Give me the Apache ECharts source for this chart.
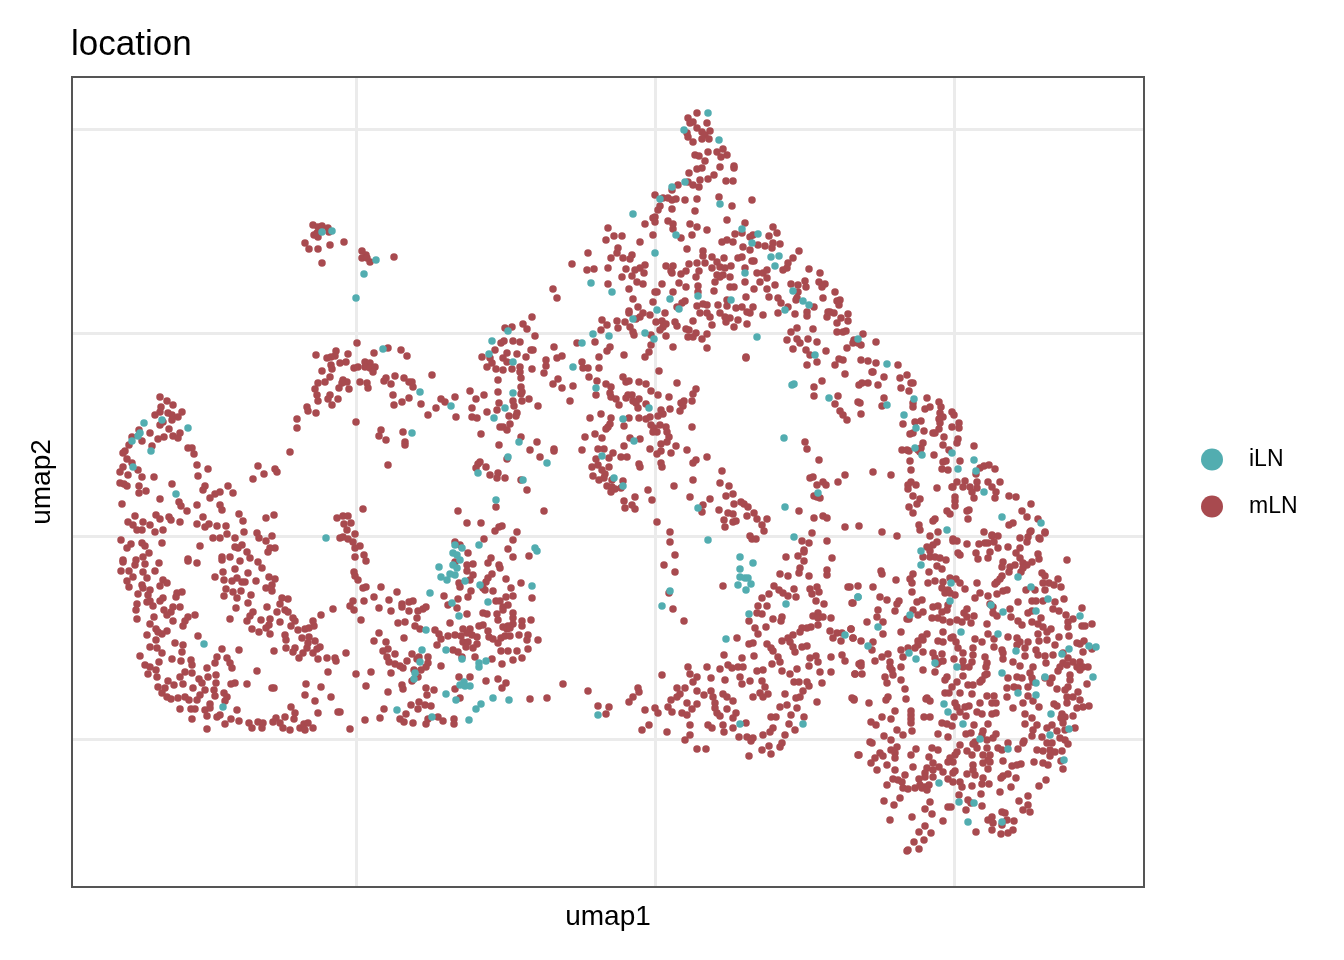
<!DOCTYPE html>
<html>
<head>
<meta charset="utf-8">
<style>html,body{margin:0;padding:0;background:#fff}#c{width:1344px;height:960px}</style>
<script src="https://cdn.jsdelivr.net/npm/echarts@6/dist/echarts.min.js"></script>
</head>
<body>
<div id="c"></div>
<script>
const xGrid = [356, 655, 954];
const yGrid = [221, 424, 627, 831];
const legendNames = ['iLN', 'mLN'];

const mlnLeftUpper = [[160,563],[167,559],[173,555],[161,553],[182,548],[155,545],[160,548],[168,547],[172,545],[178,543],[163,538],[172,540],[160,535],[169,531],[150,527],[139,530],[180,527],[173,524],[178,522],[164,523],[158,521],[132,523],[142,519],[152,514],[129,515],[125,509],[123,507],[188,512],[192,512],[194,506],[127,501],[132,497],[197,495],[208,491],[123,493],[120,488],[138,490],[128,485],[142,483],[154,483],[198,484],[120,477],[127,474],[124,476],[172,476],[139,474],[146,469],[139,467],[205,474],[203,470],[228,474],[233,467],[220,468],[215,466],[210,462],[122,456],[160,461],[179,458],[181,454],[197,455],[220,455],[222,450],[187,449],[239,446],[243,439],[203,443],[266,442],[274,445],[135,444],[156,445],[160,441],[169,443],[171,440],[180,438],[128,438],[133,435],[143,438],[150,435],[137,430],[142,430],[155,428],[163,430],[197,436],[205,433],[209,436],[217,434],[226,434],[244,428],[227,426],[213,422],[220,422],[235,422],[257,427],[272,424],[259,422],[266,419],[121,420],[131,416],[127,412],[142,417],[145,414],[162,417],[200,414],[242,415],[235,413],[238,412],[275,412],[270,412],[247,408],[268,408],[149,407],[143,403],[123,400],[136,400],[188,401],[222,403],[230,403],[250,402],[290,508],[258,494],[264,486],[253,481],[275,491],[277,488],[337,442],[340,422]];

const mlnLeftLower = [[123,398],[135,395],[145,396],[159,397],[188,399],[197,397],[121,389],[129,389],[143,388],[155,389],[133,383],[147,382],[127,379],[129,373],[142,375],[143,372],[163,380],[167,377],[160,374],[150,370],[138,366],[148,365],[182,368],[177,367],[176,363],[163,362],[160,359],[147,358],[150,359],[137,356],[153,354],[136,350],[180,353],[173,353],[164,350],[171,348],[167,345],[195,345],[188,343],[185,339],[183,334],[137,341],[154,343],[173,339],[150,336],[156,331],[167,329],[162,326],[147,325],[158,328],[156,320],[198,324],[175,317],[183,315],[150,313],[157,312],[162,307],[182,308],[140,304],[172,301],[181,299],[191,300],[192,295],[159,298],[145,295],[150,293],[156,290],[148,286],[157,283],[207,292],[180,283],[185,288],[192,287],[199,281],[202,277],[208,283],[216,285],[168,279],[174,275],[183,276],[193,272],[216,277],[214,270],[158,273],[165,272],[162,267],[167,263],[171,261],[178,262],[185,263],[189,260],[197,260],[200,265],[205,270],[215,264],[224,267],[227,263],[225,259],[180,251],[191,251],[195,251],[210,256],[205,250],[210,252],[207,244],[217,243],[220,245],[192,241],[207,231],[225,236],[231,241],[239,239],[237,250],[249,237],[252,232],[258,238],[263,237],[262,232],[273,238],[276,242],[280,237],[285,243],[283,232],[290,230],[294,241],[295,247],[291,253],[300,232],[304,236],[308,237],[305,230],[313,232],[318,247],[338,248],[315,259],[331,263],[305,265],[321,273],[306,276],[272,272],[274,272],[247,276],[235,277],[231,276],[257,289],[328,288],[232,292],[230,297],[227,302],[217,303],[215,297],[222,311],[239,310],[274,309],[299,302],[303,307],[295,312],[286,312],[293,308],[318,301],[327,302],[335,302],[336,299],[320,313],[313,307],[317,311],[307,312],[308,317],[309,323],[315,319],[302,322],[298,330],[305,331],[309,332],[314,334],[313,339],[321,345],[333,351],[293,342],[295,339],[291,334],[285,325],[286,320],[280,338],[270,341],[269,335],[266,332],[270,326],[259,328],[252,331],[261,340],[247,339],[250,344],[253,348],[230,341],[236,352],[248,357],[267,353],[277,348],[280,356],[285,350],[288,348],[282,362],[288,361],[251,365],[237,362],[224,364],[226,371],[233,368],[241,369],[266,372],[272,369],[272,375],[269,383],[275,381],[256,379],[245,378],[242,378],[237,382],[232,379],[224,380],[215,383],[223,388],[248,387],[235,391],[262,392],[258,398],[240,399],[222,400]];

const mlnUpperMiddle = [[313,735],[318,733],[322,734],[328,732],[314,725],[318,723],[317,727],[329,728],[305,717],[309,711],[318,711],[330,715],[344,718],[322,697],[362,709],[366,705],[362,702],[370,698],[367,702],[394,703],[357,617],[388,612],[374,607],[401,610],[407,604],[336,609],[348,606],[316,605],[327,602],[331,603],[335,604],[340,597],[346,598],[331,595],[332,591],[322,589],[354,592],[358,593],[365,598],[370,597],[365,593],[370,592],[375,593],[373,588],[330,583],[325,578],[318,577],[343,580],[347,578],[342,577],[339,572],[349,571],[315,571],[317,565],[318,559],[330,565],[328,561],[338,561],[332,555],[307,553],[308,549],[316,547],[297,541],[297,532],[356,538],[432,585],[395,584],[386,582],[384,579],[391,576],[404,582],[409,578],[412,578],[413,573],[360,578],[367,577],[368,572],[393,565],[394,555],[402,558],[409,562],[421,556],[428,545],[436,552],[441,561],[445,558],[455,563],[456,543],[381,530],[379,524],[386,520],[403,528],[405,518],[405,515],[388,495],[470,569],[484,565],[476,561],[472,552],[472,543],[477,542],[487,548],[481,526],[498,568],[498,580],[499,557],[497,550],[513,559],[514,554],[517,547],[509,544],[516,544],[522,559],[529,561],[538,554],[521,573],[522,568],[521,566],[521,582],[520,593],[520,588],[512,591],[532,591],[503,590],[496,591],[487,593],[492,597],[490,602],[495,610],[482,603],[503,602],[507,607],[507,598],[517,606],[526,603],[501,617],[504,619],[513,619],[520,618],[531,610],[533,610],[535,624],[505,632],[512,633],[523,636],[527,631],[532,643],[546,600],[546,594],[544,587],[500,533],[503,533],[510,536],[507,530],[521,523],[537,518],[499,515],[530,510],[507,501],[540,503],[478,496],[486,493],[498,487],[497,482],[521,480],[527,470],[505,482],[480,498],[476,492],[490,485]];

const mlnLowerMiddle = [[363,451],[458,449],[496,453],[544,449],[467,437],[481,437],[502,434],[499,433],[495,429],[517,428],[513,420],[484,421],[508,411],[513,403],[529,404],[343,444],[348,444],[344,436],[351,437],[347,430],[355,426],[343,423],[348,421],[353,418],[360,414],[355,412],[364,405],[355,403],[366,399],[354,388],[355,384],[358,380],[363,372],[366,373],[381,373],[397,368],[374,363],[364,359],[353,359],[350,354],[354,350],[361,340],[389,360],[379,352],[391,349],[402,356],[402,353],[409,358],[413,359],[409,349],[418,349],[423,351],[426,353],[417,342],[398,337],[405,338],[415,334],[420,331],[450,337],[379,327],[374,319],[386,318],[404,322],[388,311],[383,309],[387,303],[389,298],[395,306],[395,296],[400,294],[403,292],[407,299],[412,306],[419,303],[417,301],[428,303],[428,297],[426,293],[421,290],[414,290],[346,307],[437,315],[441,294],[435,330],[439,326],[441,321],[448,324],[455,325],[463,331],[470,331],[461,324],[467,327],[472,325],[477,323],[463,318],[468,318],[477,316],[473,312],[466,313],[453,310],[458,308],[462,303],[475,303],[479,334],[483,335],[488,329],[489,323],[493,321],[498,317],[501,322],[505,324],[510,324],[519,325],[528,325],[527,320],[538,320],[528,311],[517,309],[508,309],[501,309],[492,301],[522,302],[513,300],[502,296],[498,340],[467,346],[483,347],[487,346],[497,346],[531,340],[522,339],[522,334],[513,347],[513,342],[513,336],[508,334],[503,333],[507,331],[510,332],[503,353],[508,355],[503,350],[500,359],[496,359],[506,363],[513,364],[532,362],[511,372],[521,377],[506,381],[493,369],[483,372],[485,370],[482,374],[486,378],[488,382],[492,386],[499,395],[500,392],[488,397],[491,402],[471,369],[468,363],[458,361],[444,364],[448,355],[457,352],[460,373],[459,377],[473,396],[467,395],[467,389],[473,385],[470,380],[468,407],[455,418],[460,415],[455,398],[356,286],[371,288],[391,287],[366,274],[388,268],[402,275],[403,271],[412,279],[418,283],[426,272],[434,270],[427,265],[419,258],[411,255],[425,255],[431,254],[418,251],[384,251],[406,246],[380,242],[365,240],[400,241],[404,238],[413,237],[428,241],[426,236],[438,243],[443,239],[454,241],[454,236],[350,231],[340,248],[455,271],[460,262],[459,283],[470,283],[486,279],[498,281],[506,277],[502,272],[563,276],[547,262],[530,261]];

const mlnApex = [[688,842],[697,847],[693,838],[707,837],[690,837],[697,832],[702,828],[710,829],[705,825],[687,827],[688,823],[693,818],[702,821],[709,821],[708,808],[723,811],[717,808],[727,805],[721,803],[695,805],[699,804],[705,799],[734,794],[734,792],[720,793],[702,792],[697,791],[689,787],[714,785],[708,781],[700,780],[726,779],[733,779],[688,778],[693,775],[699,773],[678,775],[672,770],[655,765],[663,762],[668,762],[676,761],[672,760],[685,760],[697,761],[719,763],[752,760],[732,754],[672,751],[660,754],[658,750],[695,749],[655,743],[653,742],[645,736],[655,738],[668,739],[673,736],[673,731],[690,736],[697,733],[707,730],[727,740],[745,737],[608,732],[614,724],[622,724],[606,720],[640,718],[653,725],[681,722],[692,725],[687,711],[618,712],[617,707],[588,707],[611,702],[623,702],[632,705],[630,701],[572,696],[587,690],[594,691],[608,692],[626,691],[645,695],[640,692],[635,690],[644,687],[632,684],[622,683],[608,676],[637,678],[643,676],[662,676],[629,671],[673,668],[666,694],[673,694],[671,689],[672,687],[686,689],[681,686],[696,683],[689,696],[697,697],[705,697],[699,689],[703,709],[703,704],[712,703],[724,702],[717,698],[712,692],[720,693],[725,692],[731,694],[717,685],[720,683],[715,678],[723,685],[730,683],[738,702],[742,703],[752,699],[754,699],[745,692],[745,678],[730,673],[734,673],[698,674],[679,677],[686,673],[698,668],[714,669],[754,671],[767,671],[760,678],[757,687],[763,687],[767,690],[767,682],[775,675],[769,663],[727,720],[722,718],[733,718],[735,726],[742,727],[743,713],[750,723],[753,725],[750,710],[758,715],[765,714],[773,733],[769,724],[777,727],[773,717],[780,716],[772,712],[799,709],[793,702],[788,697],[787,692],[783,690],[809,691],[820,687],[791,676],[805,679],[798,675],[798,668],[806,673],[819,678],[825,676],[822,673],[797,662],[778,662],[781,657],[788,653],[796,660],[823,662],[814,653],[807,648],[807,644],[795,646],[778,647],[763,645],[828,648],[827,643],[629,649],[629,647],[638,653],[633,661],[653,658],[655,668],[657,668],[643,647],[640,643],[650,645],[665,647],[656,638],[662,639],[666,636],[663,633],[660,630],[675,638],[677,634],[636,641],[630,633],[633,628],[625,638],[617,639],[618,632],[602,640],[607,635],[601,630],[634,625],[651,625],[666,624],[677,653],[682,657],[685,659],[697,654],[703,656],[707,655],[700,647],[707,647],[710,643],[718,655],[720,647],[727,660],[727,654],[725,643],[730,642],[726,638],[693,639],[712,635],[738,640],[734,633],[747,636],[736,652],[742,653],[747,648],[753,653],[750,647],[746,663],[686,631],[689,630],[696,627],[688,623],[693,623],[707,626],[702,621],[707,612],[673,613],[651,615],[649,608],[645,603],[624,605],[610,613],[607,609],[599,603],[595,618],[577,617],[562,604],[557,602],[554,613],[553,671],[557,662],[746,603],[791,628],[797,632],[813,631],[787,620],[797,621],[808,621],[800,617],[817,618],[793,611],[806,610],[826,609],[810,605]];

const mlnCentre = [[659,589],[582,598],[599,592],[588,592],[583,592],[589,583],[558,581],[553,576],[562,572],[573,574],[597,579],[623,583],[626,578],[629,579],[639,578],[646,576],[606,576],[611,573],[677,577],[651,569],[596,565],[610,567],[611,563],[616,561],[628,565],[632,565],[626,562],[633,559],[639,561],[636,557],[638,552],[619,555],[646,556],[658,565],[669,563],[696,571],[693,566],[692,559],[684,559],[681,557],[683,554],[670,551],[680,549],[570,559],[661,550],[663,546],[658,544],[601,546],[590,542],[611,542],[629,542],[639,542],[650,543],[646,541],[610,536],[608,533],[606,531],[624,534],[651,535],[660,535],[666,533],[654,532],[657,528],[653,528],[667,528],[692,533],[595,526],[585,523],[602,522],[630,522],[640,521],[669,523],[667,518],[661,516],[624,514],[676,514],[650,511],[661,509],[657,506],[671,507],[687,510],[554,511],[554,509],[582,510],[598,511],[604,511],[613,507],[609,502],[621,503],[627,503],[596,501],[696,500],[693,497],[707,503],[639,496],[640,493],[661,497],[662,493],[592,493],[598,495],[609,493],[602,490],[605,486],[593,484],[599,480],[604,482],[612,480],[623,479],[693,480],[722,489],[720,477],[729,474],[674,474],[607,474],[612,473],[615,471],[621,472],[611,468],[648,470],[635,463],[624,459],[652,460],[690,463],[710,461],[726,464],[733,466],[741,458],[734,456],[744,456],[748,453],[632,455],[625,452],[635,451],[703,455],[702,448],[719,450],[728,447],[733,446],[754,447],[747,444],[757,441],[724,440],[767,441],[657,438],[762,435],[733,438],[736,439],[725,433],[764,429],[670,428],[670,418],[750,424],[752,421],[756,421],[802,419],[812,427],[809,417],[827,419],[804,410],[799,449],[814,442],[823,444],[827,442],[814,464],[817,463],[820,462],[810,482],[813,483],[823,478],[826,475],[817,475],[819,500],[807,511],[805,518],[814,573],[814,564],[822,579],[746,602],[807,595],[817,598]];

const mlnLowerCentre = [[675,405],[664,395],[675,388],[669,367],[673,351],[684,339],[723,374],[786,403],[798,404],[804,408],[804,399],[832,402],[800,392],[799,387],[780,386],[788,384],[809,384],[827,390],[827,385],[774,374],[779,370],[783,367],[788,364],[794,371],[796,363],[810,371],[817,373],[812,366],[819,368],[816,359],[824,356],[848,373],[858,374],[852,357],[769,366],[762,362],[758,354],[767,354],[757,347],[762,346],[749,339],[773,341],[782,343],[781,339],[818,347],[813,344],[818,342],[823,343],[831,342],[766,333],[755,332],[758,326],[818,335],[811,333],[807,332],[802,332],[800,328],[830,329],[851,331],[837,327],[842,327],[833,322],[841,319],[853,322],[737,322],[788,322],[793,325],[782,319],[790,318],[793,313],[795,308],[802,313],[807,314],[749,316],[753,317],[767,316],[771,312],[773,309],[724,305],[742,302],[754,304],[778,303],[772,296],[780,298],[810,302],[816,304],[818,298],[831,303],[842,305],[845,299],[809,294],[859,296],[728,295],[732,292],[738,293],[743,293],[707,293],[688,293],[720,291],[782,289],[763,290],[757,289],[797,291],[790,286],[820,288],[831,288],[855,286],[690,286],[662,285],[711,282],[697,283],[693,278],[725,280],[740,283],[742,276],[750,279],[762,279],[765,273],[794,278],[799,278],[807,278],[809,274],[822,277],[697,269],[677,272],[685,272],[711,269],[638,272],[639,268],[633,263],[680,266],[704,265],[713,263],[723,266],[727,263],[760,267],[768,266],[785,266],[803,269],[800,263],[753,263],[763,263],[796,262],[671,260],[677,263],[629,258],[733,259],[715,257],[817,258],[854,261],[697,256],[687,257],[668,253],[692,251],[715,252],[780,253],[787,255],[797,252],[598,254],[609,253],[588,269],[606,246],[645,250],[655,252],[658,247],[672,248],[682,247],[687,245],[717,247],[720,244],[727,251],[791,245],[736,247],[733,242],[804,243],[771,243],[776,243],[690,235],[708,235],[712,232],[723,235],[746,237],[733,232],[789,236],[649,235],[642,230],[667,228],[724,228],[690,225],[773,232],[770,228],[763,225],[795,230],[785,225],[739,223],[747,223],[753,222],[751,219],[685,220],[782,217],[780,213],[769,214],[697,211],[706,211],[762,210],[771,206],[749,204],[858,205]];

const mlnRightUpper = [[835,668],[840,660],[837,659],[839,655],[830,648],[834,647],[848,646],[841,642],[837,637],[848,639],[837,628],[843,628],[846,629],[863,626],[854,620],[853,617],[858,617],[861,615],[876,618],[847,612],[839,601],[843,600],[835,595],[861,600],[868,599],[876,597],[898,595],[872,588],[873,588],[845,586],[884,583],[900,582],[907,585],[911,577],[913,577],[868,577],[862,577],[859,575],[878,575],[901,572],[909,569],[838,564],[884,562],[927,562],[939,558],[913,557],[913,553],[930,553],[925,551],[858,558],[860,557],[835,556],[882,554],[840,549],[843,545],[861,546],[847,540],[941,553],[940,547],[943,543],[952,548],[954,545],[939,541],[940,537],[939,531],[959,537],[959,532],[952,533],[921,539],[915,538],[903,536],[924,529],[913,527],[910,526],[933,527],[935,527],[944,523],[958,521],[957,517],[943,515],[923,517],[921,512],[974,514],[902,510],[907,510],[909,509],[918,510],[920,508],[949,510],[934,505],[910,499],[943,498],[946,499],[960,499],[911,490],[942,491],[948,490],[873,488],[891,485],[845,485],[838,478],[980,492],[984,494],[989,495],[995,491],[976,486],[911,478],[908,475],[908,471],[916,475],[937,472],[957,478],[952,473],[965,479],[963,473],[953,473],[970,473],[977,478],[977,472],[988,478],[1000,478],[992,473],[972,468],[974,462],[996,468],[995,462],[1009,464],[1016,463],[913,464],[920,461],[917,456],[909,453],[913,447],[955,463],[955,459],[955,454],[1031,456],[1022,449],[947,449],[950,446],[967,449],[969,450],[1027,443],[1038,441],[935,441],[933,439],[968,441],[1013,437],[1009,435],[919,435],[920,430],[845,433],[859,434],[882,428],[938,428],[897,424],[930,424],[953,421],[984,428],[992,424],[1031,429],[1045,428],[1028,423],[1039,422],[1020,422]];

const mlnRightMiddle = [[937,418],[933,415],[927,413],[930,409],[923,403],[930,403],[935,403],[940,402],[946,400],[953,419],[957,419],[967,416],[979,416],[985,417],[988,417],[992,425],[998,424],[994,418],[998,412],[1008,413],[1030,428],[1045,427],[1040,421],[1020,412],[1016,407],[1027,418],[958,407],[960,405],[976,407],[978,401],[990,408],[988,402],[1038,406],[1039,401],[1020,402],[1023,397],[1067,400],[1032,398],[1027,395],[1003,398],[1002,393],[1010,393],[1015,395],[1009,388],[1021,388],[1023,392],[937,394],[942,391],[929,388],[881,389],[882,386],[913,386],[910,381],[896,380],[1002,384],[1000,381],[997,378],[995,376],[1042,387],[1045,384],[1058,381],[1043,377],[1049,377],[1054,375],[1061,373],[928,377],[935,379],[943,378],[950,382],[956,381],[960,377],[977,377],[912,377],[850,373],[873,373],[942,372],[948,370],[965,371],[1026,370],[1035,370],[1045,370],[1003,369],[1007,370],[912,368],[945,367],[950,367],[955,365],[980,367],[997,366],[988,364],[975,362],[880,363],[887,360],[899,359],[897,356],[922,360],[917,358],[853,357],[1018,358],[1032,359],[1036,359],[1043,359],[1055,358],[1064,361],[990,356],[933,353],[938,354],[948,355],[993,353],[895,349],[878,350],[913,350],[923,348],[918,345],[942,348],[947,350],[967,351],[964,347],[1010,351],[1028,347],[1032,349],[1053,351],[1059,349],[1082,352],[993,347],[997,344],[1011,343],[1041,342],[1066,345],[877,343],[867,338],[883,338],[907,341],[909,341],[932,342],[938,342],[943,340],[950,338],[957,340],[962,338],[967,343],[974,344],[971,337],[1018,339],[1022,335],[1032,338],[1038,336],[1073,341],[1068,338],[1068,333],[1082,334],[1085,334],[1092,336],[987,336],[1043,333],[851,331],[883,326],[901,328],[943,328],[1051,331],[1047,328],[853,322],[861,319],[873,318],[872,310],[927,326],[922,323],[918,319],[923,320],[918,315],[938,319],[943,318],[953,323],[956,318],[951,322],[975,321],[982,318],[988,326],[994,321],[1008,323],[1017,322],[1020,318],[1028,318],[1038,326],[1039,319],[1047,320],[1059,323],[1069,324],[1017,315],[1025,312],[1055,315],[1077,317],[1080,316],[1084,319],[958,312],[994,313],[1002,310],[915,312],[901,310],[908,312],[923,308],[973,312],[1036,310],[1053,305],[1083,308],[1092,311],[1063,307],[933,307],[942,306],[888,306],[882,303],[903,303],[963,307],[973,305],[985,303],[1003,307],[1025,304],[1038,305],[1045,304],[875,299],[890,298],[935,302],[939,298],[943,299],[954,301],[963,299],[972,298],[1003,301],[1013,298],[1046,297],[1068,302],[1063,297],[1073,298],[1080,298],[861,297],[890,293],[937,296],[963,293],[987,297],[986,293],[901,293],[969,293],[1020,294],[1033,293],[1060,293],[1067,295],[1077,293],[1083,293],[1088,293],[861,294],[892,290],[923,290],[935,288],[987,286],[893,285],[855,286],[862,286],[985,285],[1030,287],[1058,289],[1080,290],[885,283],[901,280],[947,283],[963,284],[982,280],[1017,283],[1022,282],[1008,282],[1032,282],[1052,282],[1045,282],[1070,285],[1070,280],[887,277],[945,280],[1033,278],[1050,277],[1087,276],[957,278],[952,273],[968,275],[973,275],[980,278],[1007,272],[1014,273],[1018,272],[1028,273],[1068,273],[905,271],[960,267],[1057,271],[1078,268],[945,267],[949,267],[972,266],[987,264],[994,264],[1007,263],[1028,264],[1065,270],[1067,263],[1073,263],[888,263],[852,262],[927,262]];

const mlnRightLower = [[854,260],[869,257],[886,260],[906,261],[926,261],[930,259],[955,257],[957,253],[965,253],[969,254],[980,257],[992,257],[996,257],[1013,252],[1023,257],[1033,259],[1039,253],[1054,256],[1057,254],[1067,257],[1080,260],[1077,252],[1083,253],[1089,254],[895,249],[911,249],[911,245],[911,241],[911,237],[924,243],[930,243],[882,243],[891,241],[871,238],[876,235],[960,248],[966,244],[954,243],[977,248],[982,246],[992,246],[996,247],[1025,246],[1032,242],[1062,246],[1065,243],[1073,244],[1061,242],[942,237],[947,236],[952,234],[974,235],[988,236],[1025,236],[1037,235],[1052,235],[1047,232],[1063,237],[1057,229],[1065,230],[1075,232],[897,230],[912,229],[903,225],[938,226],[948,223],[966,226],[971,227],[983,229],[982,225],[996,226],[993,222],[1033,230],[1032,224],[1042,223],[1060,222],[1065,220],[884,224],[891,220],[870,218],[872,217],[987,220],[975,218],[973,216],[960,215],[1024,219],[1023,217],[1008,217],[1047,217],[1052,217],[1068,216],[859,205],[897,213],[891,210],[916,211],[932,212],[938,210],[977,212],[998,212],[1002,210],[1018,211],[967,209],[957,208],[987,212],[1037,210],[1043,209],[1050,210],[1055,208],[1062,209],[880,207],[895,207],[911,205],[972,205],[955,205],[983,205],[990,205],[883,204],[875,202],[895,202],[929,203],[1050,204],[950,202],[988,200],[953,198],[948,198],[983,197],[990,198],[1003,199],[1034,198],[1043,197],[1048,195],[1061,199],[871,197],[887,195],[933,197],[1012,194],[1017,195],[1021,196],[913,193],[927,192],[939,193],[973,195],[988,191],[1063,191],[877,190],[895,190],[933,190],[943,188],[955,189],[973,190],[925,187],[953,187],[967,186],[975,185],[1008,186],[1003,184],[905,185],[933,183],[925,183],[983,182],[1001,182],[1016,182],[893,181],[898,180],[919,181],[948,181],[953,178],[960,178],[1046,180],[902,178],[887,175],[903,172],[908,171],[915,172],[920,175],[925,173],[929,175],[922,172],[927,170],[962,173],[972,174],[982,176],[989,176],[1011,173],[1039,174],[1000,168],[981,166],[959,165],[1028,164],[900,162],[884,159],[1019,159],[930,158],[894,155],[948,153],[951,153],[968,160],[971,157],[982,154],[925,151],[966,150],[1028,155],[1023,150],[1030,148],[932,146],[1002,148],[1005,147],[912,143],[890,140],[943,139],[992,143],[988,140],[993,137],[1007,140],[1014,139],[925,134],[1002,135],[919,128],[931,127],[976,128],[992,130],[1001,126],[1008,127],[1013,130],[924,120],[914,118],[919,111],[907,109],[908,110]];

const ilnLeft = [[144,537],[162,540],[188,532],[140,527],[138,524],[132,519],[151,509],[133,493],[176,466],[326,422],[204,316],[223,253]];

const ilnMiddle = [[322,728],[332,729],[376,700],[364,686],[356,662],[383,611],[492,619],[489,606],[508,629],[513,598],[420,568],[451,554],[513,567],[505,552],[494,542],[412,527],[519,518],[508,503],[547,497],[478,487],[523,480],[455,415],[462,412],[453,407],[457,405],[460,400],[479,415],[535,412],[537,409],[439,393],[453,395],[457,392],[455,385],[450,386],[441,383],[447,380],[465,379],[480,375],[532,374],[430,367],[452,357],[488,358],[459,344],[426,330],[422,310],[446,310],[462,301],[420,298],[486,299],[479,297],[479,293],[415,287],[414,281],[464,278],[460,275],[465,274],[470,274],[446,266],[456,260],[493,262],[509,260],[481,256],[476,251],[397,250],[432,243],[469,240],[496,460]];

const ilnCentre = [[708,847],[684,830],[719,820],[685,778],[672,773],[720,756],[660,761],[633,746],[676,725],[742,731],[758,726],[752,717],[655,707],[771,703],[779,704],[775,694],[745,687],[591,677],[612,668],[793,669],[670,661],[698,664],[731,660],[679,651],[657,650],[803,659],[809,655],[785,650],[633,641],[593,626],[609,624],[645,627],[654,621],[582,617],[757,623],[815,605],[573,593],[596,572],[649,552],[623,541],[634,519],[602,504],[614,482],[623,474],[698,452],[708,420],[784,522],[785,453],[794,423],[792,575],[794,576],[829,562],[818,467],[740,403],[753,397],[740,391],[740,383],[745,382],[748,382],[751,376],[738,375],[746,370],[670,369],[662,354],[786,356],[749,346],[858,363],[845,325],[726,321],[740,236],[803,236],[598,245]];

const ilnRight = [[887,596],[858,621],[887,555],[914,561],[904,545],[916,532],[915,512],[922,505],[952,507],[974,500],[958,491],[976,489],[984,468],[1002,443],[1041,437],[947,430],[921,409],[921,395],[1018,383],[1031,373],[951,377],[858,363],[1048,361],[950,359],[991,355],[1003,348],[1036,349],[1080,344],[910,345],[878,333],[961,328],[998,326],[868,314],[909,307],[916,301],[1016,309],[1062,306],[1069,311],[1089,314],[1096,313],[935,297],[957,293],[1002,287],[1093,283],[1045,283],[1036,277],[1018,267],[1036,265],[944,256],[948,248],[1051,246],[963,236],[1069,231],[1050,225],[980,221],[1008,211],[1064,200],[939,177],[959,158],[974,157],[968,138],[1002,138]];

const mLN = [].concat(mlnLeftUpper, mlnLeftLower, mlnUpperMiddle, mlnLowerMiddle, mlnApex, mlnCentre, mlnLowerCentre, mlnRightUpper, mlnRightMiddle, mlnRightLower);
const iLN = [].concat(ilnLeft, ilnMiddle, ilnCentre, ilnRight);

const chart = echarts.init(document.getElementById('c'), null, {renderer: 'canvas'});
const font = '"Liberation Sans", Arial, Helvetica, sans-serif';
const axisBase = {
  type: 'value',
  nameLocation: 'middle',
  nameTextStyle: {fontFamily: font, fontSize: 28, color: '#000'},
  axisLine: {show: false},
  axisLabel: {show: false},
  splitLine: {show: true, lineStyle: {color: '#EBEBEB', width: 3}}
};
chart.setOption({
  animation: false,
  backgroundColor: '#fff',
  title: {
    text: 'location', left: 66, top: 23,
    textStyle: {fontFamily: font, fontSize: 35, fontWeight: 'normal', color: '#000'}
  },
  grid: {left: 72, top: 77, width: 1072, height: 810, show: false},
  graphic: [{
    type: 'rect', silent: true, z: 100,
    shape: {x: 72, y: 77, width: 1072, height: 810},
    style: {fill: 'transparent', stroke: '#555', lineWidth: 2}
  }],
  xAxis: Object.assign({}, axisBase, {
    name: 'umap1', nameGap: 16, min: 72, max: 1144,
    axisTick: {show: false, customValues: xGrid}
  }),
  yAxis: Object.assign({}, axisBase, {
    name: 'umap2', nameGap: 16, min: 73, max: 883,
    axisTick: {show: false, customValues: yGrid}
  }),
  legend: {
    orient: 'vertical', left: 1196, top: 443,
    data: legendNames, icon: 'circle',
    itemWidth: 22, itemHeight: 22, itemGap: 24,
    textStyle: {fontFamily: font, fontSize: 23, color: '#000', padding: [0, 0, 0, 21]}
  },
  series: [
    {name: 'iLN', type: 'scatter', data: iLN, symbolSize: 7.5, z: 3, itemStyle: {color: '#52ADB0', opacity: 1}, silent: true},
    {name: 'mLN', type: 'scatter', data: mLN, symbolSize: 7.5, z: 2, itemStyle: {color: '#A84A4F', opacity: 1}, silent: true}
  ]
});
</script>
</body>
</html>
